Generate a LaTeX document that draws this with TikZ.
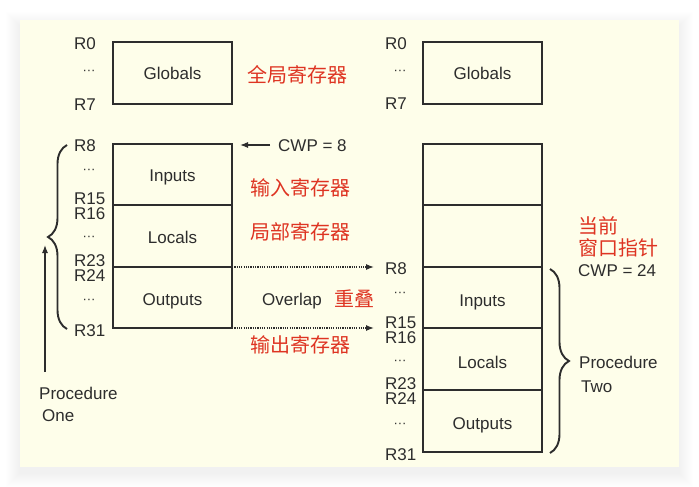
\documentclass[tikz,border=0pt]{standalone}
\usepackage{fontspec}
\setmainfont{Liberation Sans}
\newfontfamily\cjk{Noto Sans CJK SC}
\usetikzlibrary{arrows.meta,decorations.pathreplacing}
\definecolor{panel}{RGB}{254,254,234}
\definecolor{ink}{RGB}{45,45,45}
\definecolor{cnred}{RGB}{222,52,34}
\tikzset{
  box/.style={draw=ink, line width=1.6pt},
  lbl/.style={inner sep=0pt, text=ink, font=\fontsize{17}{20}\selectfont, text height=12.2pt, text depth=0pt},
  reg/.style={lbl, anchor=west},
  dotsn/.style={inner sep=0pt, text=ink, font=\fontsize{13}{15}\selectfont},
  cn/.style={inner sep=0pt, anchor=west, text=cnred, font=\cjk\fontsize{20}{22}\selectfont, text height=15.2pt, text depth=0pt},
  ptr/.style={draw=ink, line width=1.1pt, -{Latex[length=8pt,width=6pt]}},
  ovl/.style={ptr, line width=1.3pt, dash pattern=on 1.2pt off 1.1pt},
  brc/.style={draw=ink, line width=1.9pt, decorate, decoration={brace, amplitude=19pt}},
}
\begin{document}
\begin{tikzpicture}[x=1pt,y=-1pt]
  % Background
  \fill[white] (0,0) rectangle (699,487);
  \foreach \i in {1,...,14}
    \fill[black,opacity=0.005] (20-\i,26-\i) rectangle (679+\i,473+\i);
  \fill[panel] (20,20) rectangle (679,467);

  % Coordinates
  \coordinate (A) at (113,42);
  \coordinate (B) at (232,104);
  \coordinate (C) at (113,144);
  \coordinate (D) at (232,205);
  \coordinate (E) at (113,267);
  \coordinate (F) at (232,328);
  \coordinate (G) at (423,42);
  \coordinate (H) at (542,104);
  \coordinate (I) at (423,144);
  \coordinate (J) at (542,205);
  \coordinate (K) at (423,267);
  \coordinate (L) at (542,328);
  \coordinate (M) at (423,390);
  \coordinate (N) at (542,452);
  \coordinate (O) at (374,267);
  \coordinate (P) at (374,328);
  \coordinate (Q) at (240,145);
  \coordinate (S) at (45,372);
  \coordinate (T) at (45,245);
  \coordinate (U) at (67,329);
  \coordinate (V) at (67,145);
  \coordinate (W) at (550,269);
  \coordinate (X) at (550,453);

  % Boxes
  \draw[box] (A) rectangle (B);
  \draw[box] (C) rectangle (F);
  \draw[box] (C|-D) -- (D);
  \draw[box] (E) -- (E-|F);
  \draw[box] (G) rectangle (H);
  \draw[box] (I) rectangle (N);
  \draw[box] (I|-J) -- (J);
  \draw[box] (K) -- (K-|L);
  \draw[box] (K|-L) -- (L);
  \draw[box] (M) -- (M-|N);

  % Box labels
  \node[lbl] (glob1) at (172.5,73) {Globals};
  \node[lbl] (in1) at (172.5,175) {Inputs};
  \node[lbl] (loc1) at (172.5,237) {Locals};
  \node[lbl] (out1) at (172.5,299) {Outputs};
  \node[lbl] (glob2) at (482.5,73) {Globals};
  \node[lbl] (in2) at (482.5,300) {Inputs};
  \node[lbl] (loc2) at (482.5,362) {Locals};
  \node[lbl] (out2) at (482.5,423) {Outputs};

  % Registers, procedure one
  \node[reg] (lR0) at (74,43) {R0};
  \node[dotsn] (ld1) at (89,72) {···};
  \node[reg] (lR7) at (74,104) {R7};
  \node[reg] (lR8) at (74,145) {R8};
  \node[dotsn] (ld2) at (89,171) {···};
  \node[reg] (lR15) at (74,198.5) {R15};
  \node[reg] (lR16) at (74,213) {R16};
  \node[dotsn] (ld3) at (89,238) {···};
  \node[reg] (lR23) at (74,260.5) {R23};
  \node[reg] (lR24) at (74,275) {R24};
  \node[dotsn] (ld4) at (89,301) {···};
  \node[reg] (lR31) at (74,330) {R31};

  % Registers, procedure two
  \node[reg] (rR0) at (385,43) {R0};
  \node[dotsn] (rd1) at (400,72) {···};
  \node[reg] (rR7) at (385,103) {R7};
  \node[reg] (rR8) at (385,268) {R8};
  \node[dotsn] (rd2) at (400,294) {···};
  \node[reg] (rR15) at (385,322.5) {R15};
  \node[reg] (rR16) at (385,337) {R16};
  \node[dotsn] (rd3) at (400,362) {···};
  \node[reg] (rR23) at (385,383.5) {R23};
  \node[reg] (rR24) at (385,398) {R24};
  \node[dotsn] (rd4) at (400,425) {···};
  \node[reg] (rR31) at (385,454) {R31};

  % Notes
  \node[cn] (cglob) at (247,75) {全局寄存器};
  \node[reg] (cwp1) at (278,145) {CWP = 8};
  \node[cn] (cin) at (250,188) {输入寄存器};
  \node[cn] (cloc) at (250,232) {局部寄存器};
  \node[reg] (ovl) at (262,299) {Overlap};
  \node[cn] (covl) at (334,299) {重叠};
  \node[cn] (cout) at (250,345) {输出寄存器};
  \node[cn] (ccur1) at (578,226) {当前};
  \node[cn] (ccur2) at (578,248) {窗口指针};
  \node[reg] (cwp2) at (578,270) {CWP = 24};
  \node[reg] (proc2a) at (579,362) {Procedure};
  \node[reg] (proc2b) at (581,386) {Two};
  \node[reg] (proc1a) at (39,393) {Procedure};
  \node[reg] (proc1b) at (42,415) {One};

  % Connectors
  \draw[ovl] (E-|F) -- (O);
  \draw[ovl] (F) -- (P);
  \draw[ptr, shorten <=8pt] (cwp1.west) -- (Q);
  \draw[ptr] (S) -- (T);
  \draw[brc] (U) -- (V);
  \draw[brc] (W) -- (X);
\end{tikzpicture}
\end{document}
